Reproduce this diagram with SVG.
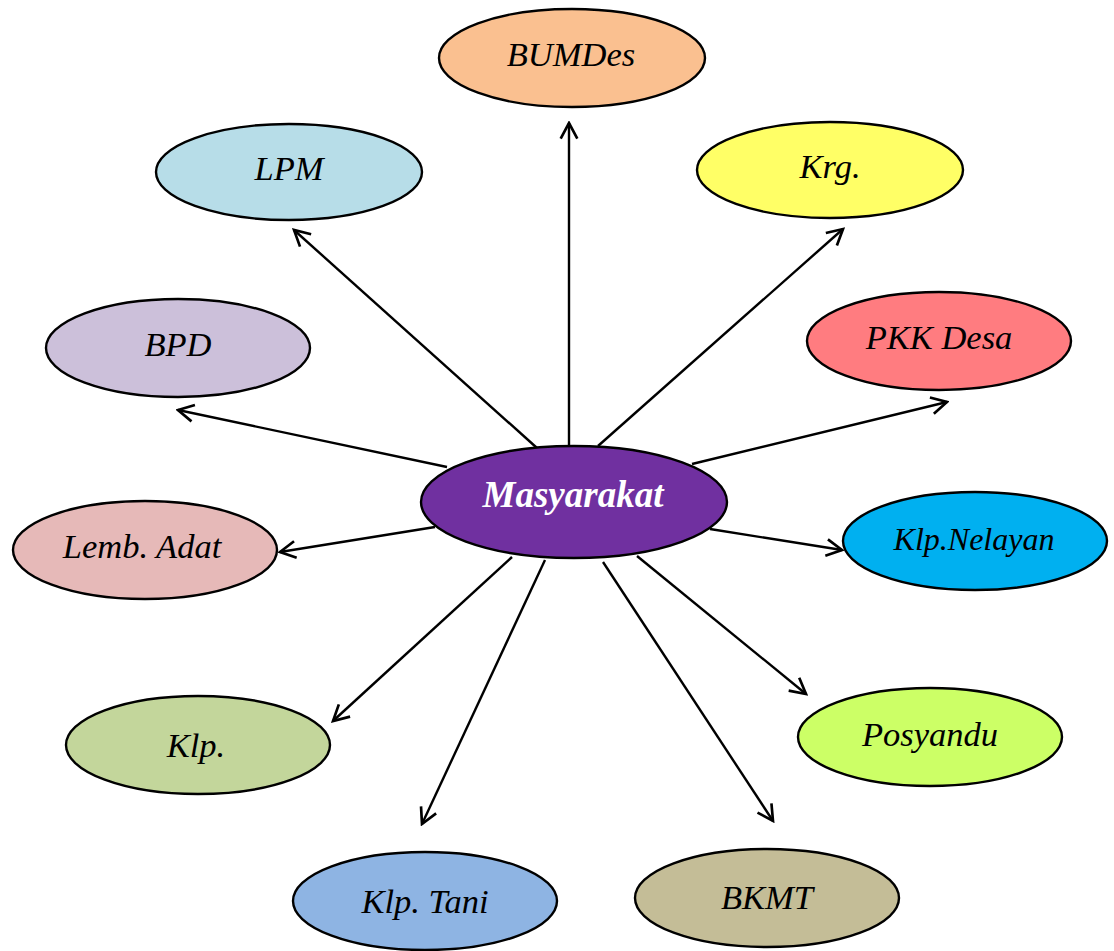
<svg xmlns="http://www.w3.org/2000/svg" width="1114" height="951" viewBox="0 0 1114 951">
<defs>
<marker id="arr" markerUnits="userSpaceOnUse" markerWidth="20" markerHeight="20" viewBox="-16 -9 18 18" refX="0" refY="0" orient="auto">
<path d="M-14,-7.5 L0,0 L-14,7.5" fill="none" stroke="#000" stroke-width="2.4" stroke-linejoin="miter"/>
</marker>
<style>
.c line{stroke:#000;stroke-width:2.4;marker-end:url(#arr)}
ellipse{stroke:#000;stroke-width:2.4}
text{font-family:"Liberation Serif","Times New Roman",serif;font-style:italic;font-size:34.5px;text-anchor:middle;fill:#000}
.m{font-weight:bold;font-size:37px;fill:#fff}
.s{font-size:32px}
</style>
</defs>
<rect width="1114" height="951" fill="#fff"/>
<g id="connectors" class="c">
<line x1="569" y1="446" x2="569" y2="123"/>
<line x1="537" y1="448" x2="294" y2="230"/>
<line x1="598" y1="446" x2="843" y2="229"/>
<line x1="447" y1="467" x2="178" y2="410"/>
<line x1="692" y1="464" x2="947" y2="402"/>
<line x1="435" y1="527" x2="280" y2="552"/>
<line x1="710" y1="529" x2="842" y2="550"/>
<line x1="512" y1="557" x2="333" y2="721"/>
<line x1="637" y1="556" x2="806" y2="694"/>
<line x1="545" y1="560" x2="422" y2="824"/>
<line x1="603" y1="562" x2="773" y2="821"/>
</g>
<g id="n-bumdes"><ellipse cx="572" cy="58" rx="133" ry="49" fill="#FAC090"/><text x="571" y="66">BUMDes</text></g>
<g id="n-lpm"><ellipse cx="289" cy="172" rx="133" ry="48" fill="#B7DDE8"/><text x="289" y="180">LPM</text></g>
<g id="n-krg"><ellipse cx="830" cy="170" rx="133" ry="48" fill="#FFFF66"/><text x="830" y="178">Krg.</text></g>
<g id="n-bpd"><ellipse cx="178" cy="348" rx="132" ry="49" fill="#CCC0DA"/><text x="178" y="356">BPD</text></g>
<g id="n-pkk"><ellipse cx="939" cy="341" rx="132" ry="49" fill="#FF7C80"/><text x="939" y="349">PKK Desa</text></g>
<g id="n-masyarakat"><ellipse cx="574" cy="502" rx="153" ry="56" fill="#7030A0"/><text class="m" x="573" y="507">Masyarakat</text></g>
<g id="n-lembadat"><ellipse cx="145" cy="550" rx="132" ry="49" fill="#E6B9B8"/><text x="142" y="558">Lemb. Adat</text></g>
<g id="n-nelayan"><ellipse cx="975" cy="541" rx="132" ry="49" fill="#00B0F0"/><text class="s" x="974" y="550">Klp.Nelayan</text></g>
<g id="n-klp"><ellipse cx="198" cy="745" rx="132" ry="49" fill="#C3D69B"/><text x="196" y="757">Klp.</text></g>
<g id="n-posyandu"><ellipse cx="930" cy="737" rx="132" ry="49" fill="#CCFF66"/><text x="930" y="746">Posyandu</text></g>
<g id="n-tani"><ellipse cx="425" cy="901" rx="132" ry="49" fill="#8EB4E3"/><text x="425" y="913">Klp. Tani</text></g>
<g id="n-bkmt"><ellipse cx="767" cy="898" rx="132" ry="49" fill="#C4BD97"/><text x="767" y="909">BKMT</text></g>
</svg>
